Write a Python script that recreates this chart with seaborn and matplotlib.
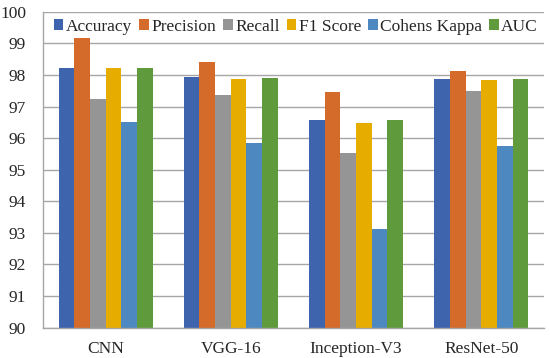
import pandas as pd
import matplotlib.pyplot as plt
import seaborn as sns

# Values
models = ["CNN", "VGG-16", "Inception-V3", "ResNet-50"]
metrics = ["Accuracy", "Precision", "Recall", "F1 Score", "Cohens Kappa", "AUC"]
accuracy = [98.23, 97.93, 96.56, 97.87]
precision = [99.18, 98.40, 97.47, 98.14]
recall = [97.25, 97.38, 95.53, 97.50]
f1_score = [98.21, 97.88, 96.48, 97.83]
cohens_kappa = [96.51, 95.84, 93.13, 95.75]
auc = [98.23, 97.90, 96.56, 97.87]

colors = ["#3F64AE", "#D46B2A", "#959595", "#E6AC00", "#4E88C0", "#5F9B3D"]

rows = []
for name, vals in zip(metrics, [accuracy, precision, recall, f1_score, cohens_kappa, auc]):
    for m, v in zip(models, vals):
        rows.append({"Model": m, "Metric": name, "Value": v})
df = pd.DataFrame(rows)

sns.set_style("white")
plt.rcParams['font.family'] = ['Liberation Serif', 'DejaVu Serif']

fig = plt.figure(figsize=(5.5, 3.58), dpi=100)
ax = fig.add_axes([0.078, 0.085, 0.911, 0.882])

sns.barplot(data=df, x="Model", y="Value", hue="Metric", hue_order=metrics,
            palette=colors, width=0.75, saturation=1, linewidth=0, ax=ax)

ax.set_ylim(90, 100)
ax.set_yticks(range(90, 101))
ax.set_xlim(-0.5, 3.5)
ax.yaxis.grid(True, color="#A6A6A6", linewidth=1)
ax.set_axisbelow(True)
ax.set_xlabel("")
ax.set_ylabel("")
ax.tick_params(axis="both", labelsize=12.5, length=0)
ax.tick_params(axis="y", pad=12)
ax.tick_params(axis="x", pad=10)
for s in ["top", "right"]:
    ax.spines[s].set_visible(False)
for s in ["left", "bottom"]:
    ax.spines[s].set_color("#A6A6A6")
    ax.spines[s].set_linewidth(1)

ax.legend(loc="upper center", bbox_to_anchor=(0.505, 0.995), ncol=6, frameon=False,
          fontsize=12.5, handlelength=0.55, handleheight=0.55, handletextpad=0.15,
          columnspacing=0.4, borderpad=0.2, borderaxespad=0.1)

plt.savefig("out.png", dpi=100)
